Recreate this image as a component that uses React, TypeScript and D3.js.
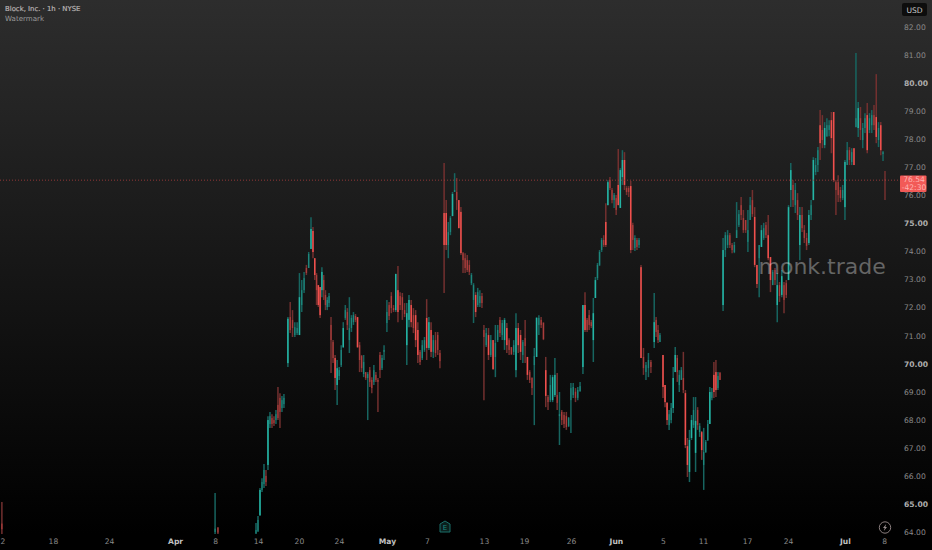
import { useEffect, useRef } from 'react';
import * as d3 from 'd3';

// open, high, low, close
type Bar = [number, number, number, number];

const symbolTitle = 'Block, Inc. · 1h · NYSE';
const lastPrice = 76.54;
const countdown = '-42:30';
const priceTicks = [64, 65, 66, 67, 68, 69, 70, 71, 72, 73, 74, 75, 76, 77, 78, 79, 80, 81, 82];
const boldPrices = [65, 70, 75, 80];

// tick position on the bar axis, one label each
const timeSlots = [-116.4, -92.3, -66.8, -36.8, -18.6, 0.9, 19.5, 37.7, 59.5, 77.7, 103.6, 121.8, 143.2, 163.6, 185, 203.2, 223.2, 241.8, 267.7, 285.5];
const timeLabels = ['12', '18', '24', 'Apr', '8', '14', '20', '24', 'May', '7', '13', '19', '26', 'Jun', '5', '11', '17', '24', 'Jul', '8'];
const monthLabels = ['Apr', 'May', 'Jun', 'Jul'];

const marchBars: Bar[] = [[64.3, 65.07, 63.93, 64.1]];
const aprilOpenBars: Bar[] = [[64.0, 65.39, 63.93, 64.12], [64.15, 64.18, 63.93, 63.98]];
const aprilRiseBars: Bar[] = [
  [63.95, 64.32, 63.93, 64.07], [64.04, 64.57, 64.0, 64.43], [64.6, 65.57, 64.57, 65.5], [65.5, 65.92, 65.43, 65.78],
  [65.71, 66.42, 65.57, 66.21], [66.0, 66.21, 65.64, 65.78], [66.39, 68.13, 66.21, 67.99], [67.85, 68.28, 67.71, 68.13],
  [68.06, 68.2, 67.71, 67.85], [67.99, 68.13, 67.78, 67.88], [67.99, 68.35, 67.85, 68.2], [68.53, 69.17, 67.99, 68.06],
  [68.78, 68.95, 67.71, 68.28], [68.42, 68.85, 68.28, 68.7], [68.56, 68.92, 68.42, 68.78],
];
const aprilClimbBars: Bar[] = [
  [70.02, 71.66, 69.88, 71.6], [71.66, 72.2, 71.09, 71.2], [71.56, 71.91, 70.95, 71.27], [71.02, 71.48, 70.95, 71.3],
  [71.09, 71.48, 71.02, 71.27], [71.02, 73.23, 71.02, 72.37], [72.09, 72.98, 71.84, 72.62], [72.62, 73.27, 72.52, 73.05],
  [73.41, 73.52, 73.16, 73.23], [73.41, 73.98, 73.41, 73.91], [74.09, 75.22, 74.09, 74.8],
];
const aprilFadeBars: Bar[] = [
  [74.73, 74.87, 73.76, 73.98], [73.76, 73.76, 72.98, 73.16], [73.16, 73.23, 72.09, 72.62], [72.8, 72.8, 72.02, 72.09],
  [72.73, 72.73, 71.63, 71.73], [72.62, 73.44, 72.37, 73.27], [72.98, 73.16, 72.27, 72.62], [72.45, 72.62, 71.91, 72.09],
  [72.02, 72.37, 71.91, 72.27], [72.16, 72.52, 72.02, 72.41],
];
const aprilDipBars: Bar[] = [
  [71.38, 71.66, 69.67, 70.84], [70.77, 70.84, 70.02, 70.2], [70.2, 70.31, 69.06, 69.49], [69.24, 70.13, 68.53, 69.84],
  [69.56, 69.88, 69.42, 69.77], [69.95, 70.66, 69.88, 70.49], [70.59, 71.48, 70.56, 71.27], [71.63, 72.09, 71.56, 71.91],
  [71.84, 71.98, 71.2, 71.38], [70.84, 72.37, 70.38, 71.27], [71.27, 71.73, 71.13, 71.63], [71.48, 71.84, 71.38, 71.73],
  [71.7, 71.77, 71.48, 71.56], [71.66, 71.66, 70.56, 70.59], [70.66, 70.77, 69.7, 70.13], [70.27, 70.31, 69.7, 69.84],
  [69.63, 70.31, 69.52, 70.06], [69.7, 69.7, 69.42, 69.49], [69.49, 69.7, 67.99, 69.63], [69.77, 69.88, 69.17, 69.35],
  [69.42, 69.52, 68.95, 69.13], [69.35, 69.95, 69.24, 69.77], [69.6, 69.7, 69.35, 69.42], [69.42, 69.49, 68.28, 69.35],
  [70.31, 70.42, 69.49, 69.77], [69.84, 70.31, 69.77, 70.2], [70.42, 70.66, 70.13, 70.49],
];
const mayStartBars: Bar[] = [
  [71.45, 72.27, 71.13, 71.84], [72.09, 72.2, 71.56, 71.7], [72.41, 72.55, 71.8, 71.98], [71.98, 72.09, 71.84, 71.91],
  [71.91, 73.2, 71.84, 73.2], [72.62, 73.48, 71.48, 71.84], [72.41, 72.55, 71.91, 72.09], [72.37, 72.52, 71.56, 71.91],
  [71.91, 72.16, 71.66, 71.77], [70.66, 72.16, 69.95, 71.8], [71.56, 72.45, 71.3, 72.27], [72.09, 72.27, 71.3, 71.48],
  [71.73, 71.98, 71.09, 71.27], [71.73, 71.91, 70.59, 70.84], [71.2, 71.48, 70.02, 70.31], [70.42, 70.49, 69.95, 70.06],
  [70.2, 70.84, 70.13, 70.66], [70.49, 70.95, 70.42, 70.84], [71.63, 72.3, 70.13, 70.56], [70.56, 71.66, 70.49, 71.48],
  [71.2, 71.48, 70.24, 70.42], [70.42, 71.02, 70.2, 70.84], [70.84, 71.13, 70.24, 70.38], [71.02, 71.13, 70.31, 70.49],
  [70.38, 70.49, 69.84, 70.09],
];
const earningsBars: Bar[] = [
  [75.37, 77.15, 72.52, 74.23], [75.37, 75.83, 74.05, 74.23], [74.23, 75.05, 73.76, 74.69], [74.69, 75.26, 74.58, 75.19],
  [75.26, 76.12, 75.26, 76.05], [76.12, 76.79, 76.12, 76.19], [76.12, 76.62, 75.48, 75.83], [75.83, 75.83, 74.83, 74.83],
  [75.41, 75.58, 73.87, 73.94], [73.94, 73.98, 73.23, 73.69], [73.76, 73.94, 73.23, 73.41], [73.69, 73.87, 73.27, 73.34],
  [73.52, 73.69, 73.16, 73.27], [72.87, 73.23, 72.8, 73.16], [72.27, 72.87, 71.45, 72.8], [72.45, 72.55, 71.66, 71.84],
  [72.09, 72.7, 72.02, 72.55], [72.16, 72.62, 72.02, 72.41], [72.41, 72.52, 71.98, 72.16],
];
const mayRangeBars: Bar[] = [
  [71.2, 71.38, 68.7, 70.95], [70.66, 71.27, 70.59, 71.09], [71.02, 71.27, 70.13, 70.31], [70.31, 71.02, 70.24, 70.84],
  [70.84, 70.84, 69.77, 69.81], [70.24, 71.38, 69.52, 70.74], [70.84, 71.38, 70.77, 71.2], [71.56, 71.66, 70.95, 71.09],
  [71.02, 71.56, 70.84, 71.45], [70.84, 71.63, 70.49, 71.56], [71.27, 71.45, 70.38, 70.66], [70.84, 70.91, 70.31, 70.49],
  [70.59, 70.59, 70.31, 70.34], [70.42, 70.84, 70.31, 70.66], [69.77, 71.8, 69.52, 71.27], [71.27, 71.45, 70.38, 70.66],
  [71.02, 71.2, 70.13, 70.42], [70.31, 70.84, 70.02, 70.77], [70.91, 71.56, 70.02, 70.63], [70.24, 70.24, 69.42, 69.6],
  [69.7, 69.77, 69.31, 69.42], [69.49, 69.52, 68.88, 69.13], [69.95, 70.56, 67.81, 70.27], [70.24, 71.66, 70.24, 71.63],
  [71.38, 71.73, 71.02, 71.63], [71.56, 71.66, 71.27, 71.38], [71.45, 71.48, 70.84, 70.88], [69.77, 70.24, 68.45, 68.85],
  [68.81, 68.88, 68.35, 68.63], [68.7, 69.6, 68.63, 69.24], [68.7, 69.6, 68.63, 69.52], [68.88, 70.2, 68.81, 69.6],
  [68.88, 69.67, 68.35, 68.6], [68.13, 68.99, 67.1, 68.2], [68.28, 68.35, 67.81, 67.99], [68.17, 68.28, 67.71, 67.85],
  [68.13, 68.28, 67.64, 67.74], [67.78, 68.1, 67.74, 68.06], [68.7, 69.31, 67.53, 69.13], [68.88, 69.31, 68.78, 69.17],
  [69.0, 69.13, 68.63, 68.78], [68.78, 69.17, 68.7, 69.06], [69.02, 69.35, 69.0, 69.2],
];
const juneRiseBars: Bar[] = [
  [69.88, 72.09, 69.63, 72.09], [72.09, 72.55, 71.13, 71.2], [71.56, 71.63, 71.13, 71.2], [71.73, 71.91, 71.2, 71.38],
  [71.48, 71.56, 71.27, 71.34], [70.84, 72.34, 70.06, 71.8], [72.34, 73.09, 72.34, 72.98], [73.05, 73.59, 72.98, 73.52],
  [73.52, 74.05, 73.48, 73.98], [74.05, 74.48, 73.98, 74.41], [74.41, 74.58, 74.16, 74.23], [75.05, 75.72, 74.16, 74.23],
  [75.65, 76.54, 75.65, 76.47], [76.54, 76.65, 76.19, 76.26], [76.19, 76.26, 75.72, 75.83], [75.83, 76.08, 75.55, 76.01],
  [75.9, 76.01, 75.3, 75.48], [76.37, 77.65, 75.65, 75.65], [75.55, 76.97, 75.55, 76.9], [76.65, 77.61, 76.37, 77.26],
  [77.26, 77.54, 76.19, 76.37], [76.26, 76.33, 76.01, 76.12], [76.26, 76.33, 75.94, 76.12], [76.33, 76.51, 73.94, 74.05],
  [74.94, 75.02, 74.05, 74.41], [74.12, 74.58, 74.02, 74.48], [74.41, 74.48, 74.05, 74.16], [74.23, 74.48, 74.12, 74.41],
];
const juneDropBars: Bar[] = [
  [73.44, 73.52, 70.2, 70.2], [70.24, 70.56, 69.6, 69.84], [69.7, 70.06, 69.42, 69.95], [69.84, 70.38, 69.52, 70.13],
  [70.06, 70.13, 69.67, 69.88],
];
const juneGapBars: Bar[] = [
  [70.77, 72.52, 70.56, 71.48], [71.56, 71.66, 70.95, 71.13], [71.2, 71.38, 70.74, 70.84], [70.77, 71.09, 70.77, 71.02],
];
const juneLowBars: Bar[] = [
  [70.31, 70.31, 68.78, 69.17], [69.24, 69.24, 68.45, 68.63], [68.6, 68.63, 67.81, 67.99], [67.81, 68.35, 67.64, 68.2],
  [67.99, 68.6, 67.88, 68.42], [68.42, 69.88, 68.24, 69.49], [69.7, 70.59, 69.7, 70.31], [70.2, 70.31, 69.35, 69.7],
  [69.24, 69.77, 68.99, 69.6], [69.42, 69.88, 69.42, 69.77], [69.49, 70.42, 68.95, 69.06], [68.95, 69.06, 66.99, 67.1],
  [67.06, 67.35, 65.96, 66.39], [66.14, 67.64, 65.78, 67.28], [67.35, 68.17, 67.28, 67.99], [67.81, 68.81, 67.71, 68.35],
  [66.82, 68.81, 66.14, 67.96], [68.35, 68.45, 67.64, 67.81], [67.56, 67.88, 67.39, 67.78], [67.56, 67.6, 66.57, 66.92],
  [66.39, 67.71, 65.5, 66.85], [66.85, 67.28, 66.82, 67.21], [67.28, 67.99, 67.24, 67.85], [67.85, 69.17, 67.85, 68.99],
  [68.78, 69.13, 68.7, 68.99], [69.6, 70.06, 68.78, 68.99], [69.7, 70.13, 68.81, 69.06], [69.13, 69.7, 69.06, 69.56],
  [69.67, 69.7, 69.42, 69.42],
];
const juneHighBars: Bar[] = [
  [72.09, 74.48, 71.88, 74.05], [74.05, 74.69, 73.8, 74.58], [74.23, 74.76, 74.12, 74.58], [74.58, 74.66, 74.12, 74.23],
  [74.23, 74.3, 73.94, 74.05], [73.98, 74.34, 73.94, 74.23], [74.48, 75.76, 74.48, 74.76], [74.94, 75.48, 74.87, 75.33],
  [75.65, 75.94, 75.12, 75.3], [75.19, 75.48, 74.66, 74.76], [75.12, 75.12, 74.66, 74.76], [74.34, 75.48, 73.98, 74.76],
  [75.12, 75.94, 75.12, 75.65], [75.83, 76.19, 75.23, 75.33], [75.23, 75.58, 73.44, 73.52], [73.52, 73.52, 72.7, 72.84],
  [73.76, 74.23, 72.37, 74.23], [74.16, 74.94, 74.16, 74.76], [74.48, 75.02, 74.41, 74.83], [74.94, 75.05, 74.48, 74.58],
  [74.58, 75.3, 73.69, 73.76], [73.8, 73.8, 72.55, 72.98], [72.8, 73.34, 72.8, 73.27], [73.34, 73.41, 72.8, 72.98],
  [72.09, 73.23, 71.48, 72.8], [72.8, 72.91, 72.2, 72.41], [72.45, 73.34, 72.37, 73.12], [72.8, 72.91, 71.8, 72.27],
  [72.87, 72.98, 72.34, 72.45], [72.98, 75.65, 72.98, 75.58], [76.19, 77.15, 75.58, 76.9], [76.37, 76.54, 75.58, 75.83],
  [75.65, 76.44, 75.37, 76.19], [75.83, 76.08, 75.12, 75.3], [74.23, 75.58, 73.69, 75.3], [75.3, 75.58, 74.69, 74.83],
  [74.76, 74.94, 74.3, 74.48], [74.48, 74.66, 74.05, 74.2], [74.3, 75.48, 74.23, 75.3], [75.3, 75.83, 75.12, 75.65],
  [75.83, 77.36, 75.83, 77.26], [76.83, 77.33, 76.72, 77.08], [77.08, 77.72, 76.83, 77.61], [78.5, 79.04, 77.26, 77.86],
  [78.33, 78.86, 77.68, 77.97], [77.79, 78.61, 77.68, 78.4], [78.11, 78.75, 78.08, 78.5], [78.33, 78.68, 78.11, 78.5],
  [78.68, 78.97, 77.5, 78.04], [78.97, 78.97, 76.47, 76.54], [76.47, 76.54, 75.3, 76.19], [76.47, 76.72, 75.76, 76.01],
  [76.19, 76.3, 75.76, 75.9], [75.9, 76.37, 75.83, 76.19], [75.58, 77.26, 75.12, 77.19], [77.08, 77.9, 77.08, 77.61],
  [77.61, 77.72, 77.08, 77.26], [77.19, 77.68, 77.08, 77.54], [77.68, 77.68, 77.08, 77.08],
];
const julyBars: Bar[] = [
  [78.43, 81.07, 78.43, 78.75], [78.4, 79.33, 78.08, 79.11], [78.75, 79.15, 77.97, 78.33], [77.97, 78.58, 77.68, 78.4],
  [78.4, 78.93, 78.22, 78.75], [78.86, 79.29, 77.5, 77.61], [78.33, 78.93, 78.22, 78.75], [78.5, 79.04, 78.22, 78.86],
  [78.86, 79.22, 78.33, 78.5], [78.79, 80.32, 77.86, 78.08], [77.97, 78.61, 77.72, 78.4], [78.5, 78.61, 77.43, 77.61],
  [77.47, 77.58, 77.22, 77.54],
];
const lastBars: Bar[] = [[76.56, 76.87, 75.83, 76.54]];

// first slot, last slot, bars between them
const barRuns: [number, number, Bar[]][] = [
  [-115.5, -115.5, marchBars],
  [-18.6, -17.3, aprilOpenBars],
  [0, 12.7, aprilRiseBars],
  [14.5, 25, aprilClimbBars],
  [25.9, 33.2, aprilFadeBars],
  [34.1, 58.2, aprilDipBars],
  [59.5, 83.6, mayStartBars],
  [85.5, 102.7, earningsBars],
  [103.6, 147.3, mayRangeBars],
  [148.6, 174.1, juneRiseBars],
  [175, 179.5, juneDropBars],
  [181, 183.6, juneGapBars],
  [185, 210.9, juneLowBars],
  [212.3, 271.8, juneHighBars],
  [272.7, 285, julyBars],
  [285.9, 285.9, lastBars],
];

const UP = '#26b8a8';
const DOWN = '#f7524f';
const UP_WICK = '#176560';
const DOWN_WICK = '#73302f';

const App = () => {
  const ref = useRef<SVGSVGElement | null>(null);

  useEffect(() => {
    const svg = d3.select(ref.current);
    svg.selectAll('*').remove();

    const width = 932;
    const height = 550;
    const x = d3.scaleLinear().domain([0, 285.9]).range([256, 885]);
    const y = d3.scaleLinear().domain([64, 82]).range([532, 27]);

    const defs = svg.append('defs');
    const grad = defs
      .append('linearGradient')
      .attr('id', 'bg')
      .attr('x1', 0)
      .attr('x2', 0)
      .attr('y1', 0)
      .attr('y2', 1);
    grad.append('stop').attr('offset', '0%').attr('stop-color', '#2d2d2d');
    grad.append('stop').attr('offset', '97%').attr('stop-color', '#000000');
    defs
      .append('clipPath')
      .attr('id', 'pane')
      .append('rect')
      .attr('width', 900)
      .attr('height', 535);

    svg.append('rect').attr('width', width).attr('height', height).attr('fill', 'url(#bg)');

    const bars = barRuns.flatMap(([from, to, rows]) =>
      rows.map((row, i) => ({
        slot: rows.length > 1 ? from + (i * (to - from)) / (rows.length - 1) : from,
        open: row[0],
        high: row[1],
        low: row[2],
        close: row[3],
      })),
    );

    const pane = svg.append('g').attr('clip-path', 'url(#pane)');

    pane
      .selectAll('.wick')
      .data(bars)
      .enter()
      .append('line')
      .attr('class', 'wick')
      .attr('x1', d => x(d.slot))
      .attr('x2', d => x(d.slot))
      .attr('y1', d => y(d.high))
      .attr('y2', d => y(d.low))
      .attr('stroke', d => (d.close >= d.open ? UP_WICK : DOWN_WICK))
      .attr('stroke-width', 1.5);

    pane
      .selectAll('.body')
      .data(bars)
      .enter()
      .append('rect')
      .attr('class', 'body')
      .attr('x', d => x(d.slot) - 0.75)
      .attr('width', 1.5)
      .attr('y', d => y(Math.max(d.open, d.close)))
      .attr('height', d => Math.max(0.6, Math.abs(y(d.open) - y(d.close))))
      .attr('fill', d => (d.close >= d.open ? UP : DOWN))
      .attr('opacity', d => (Math.abs(y(d.open) - y(d.close)) > 16 ? 0.95 : 0.42));

    // watermark is painted over the candles
    svg
      .append('text')
      .attr('x', 758.5)
      .attr('y', 274)
      .attr('font-family', 'DejaVu Sans')
      .attr('font-size', 22)
      .attr('fill', '#ffffff')
      .attr('fill-opacity', 0.34)
      .text('monk.trade');

    // last price line
    svg
      .append('line')
      .attr('x1', 0)
      .attr('x2', 901)
      .attr('y1', y(lastPrice))
      .attr('y2', y(lastPrice))
      .attr('stroke', '#b03f3e')
      .attr('stroke-width', 0.8)
      .attr('stroke-dasharray', '1 2');

    const priceAxis = svg
      .append('g')
      .attr('transform', 'translate(902,0)')
      .call(
        d3
          .axisRight(y)
          .tickValues(priceTicks)
          .tickSize(0)
          .tickPadding(2)
          .tickFormat(d => d3.format('.2f')(d as number)),
      );
    priceAxis.select('.domain').remove();
    priceAxis
      .selectAll('text')
      .attr('font-family', 'DejaVu Sans')
      .attr('font-size', 7.6)
      .attr('fill', d => (boldPrices.includes(d as number) ? '#aeaeae' : '#8a8a8a'))
      .attr('font-weight', d => (boldPrices.includes(d as number) ? 'bold' : 'normal'));

    const timeAxis = svg
      .append('g')
      .attr('transform', 'translate(0,537)')
      .call(
        d3
          .axisBottom(x)
          .tickValues(timeSlots)
          .tickSize(0)
          .tickPadding(2)
          .tickFormat((_, i) => timeLabels[i]),
      );
    timeAxis.select('.domain').remove();
    timeAxis
      .selectAll('text')
      .attr('font-family', 'DejaVu Sans')
      .attr('font-size', 7.6)
      .attr('fill', (_, i) => (monthLabels.includes(timeLabels[i]) ? '#c0c0c0' : '#8a8a8a'))
      .attr('font-weight', (_, i) => (monthLabels.includes(timeLabels[i]) ? 'bold' : 'normal'));

    // currency button
    svg
      .append('rect')
      .attr('x', 902)
      .attr('y', 3)
      .attr('width', 25)
      .attr('height', 13)
      .attr('rx', 2)
      .attr('fill', '#0d0d0d');
    svg
      .append('text')
      .attr('x', 914.5)
      .attr('y', 12.6)
      .attr('text-anchor', 'middle')
      .attr('font-family', 'DejaVu Sans')
      .attr('font-size', 7.6)
      .attr('fill', '#c8c8c8')
      .text('USD');

    // last price tag
    svg
      .append('rect')
      .attr('x', 900)
      .attr('y', 175.5)
      .attr('width', 26.5)
      .attr('height', 16.5)
      .attr('rx', 1)
      .attr('fill', '#f25a57');
    svg
      .append('text')
      .attr('x', 914)
      .attr('y', 182)
      .attr('text-anchor', 'middle')
      .attr('font-family', 'DejaVu Sans')
      .attr('font-size', 7.6)
      .attr('fill', '#ffb4b1')
      .text(d3.format('.2f')(lastPrice));
    svg
      .append('text')
      .attr('x', 914)
      .attr('y', 190)
      .attr('text-anchor', 'middle')
      .attr('font-family', 'DejaVu Sans')
      .attr('font-size', 7.6)
      .attr('fill', '#ffb4b1')
      .text(countdown);

    // legend
    svg
      .append('text')
      .attr('x', 5)
      .attr('y', 10.5)
      .attr('font-family', 'DejaVu Sans')
      .attr('font-size', 6.9)
      .attr('fill', '#b8b2b2')
      .attr('stroke', '#b8b2b2')
      .attr('stroke-width', 0.2)
      .text(symbolTitle);
    svg
      .append('text')
      .attr('x', 5)
      .attr('y', 21)
      .attr('font-family', 'DejaVu Sans')
      .attr('font-size', 7.1)
      .attr('fill', '#9a9a9a')
      .text('Watermark');

    // earnings marker
    const earnings = svg.append('g').attr('transform', 'translate(445,527)');
    earnings
      .append('path')
      .attr('d', 'M-5,-3 L0,-6 L5,-3 L5,5 L-5,5 Z')
      .attr('fill', '#0b1f1d')
      .attr('stroke', '#1b6f69')
      .attr('stroke-width', 1);
    earnings
      .append('text')
      .attr('y', 3)
      .attr('text-anchor', 'middle')
      .attr('font-family', 'DejaVu Sans')
      .attr('font-size', 7)
      .attr('fill', '#1b8a80')
      .text('E');

    // flash marker
    const flash = svg.append('g').attr('transform', 'translate(885,527.5)');
    flash
      .append('circle')
      .attr('r', 5.7)
      .attr('fill', 'none')
      .attr('stroke', '#8a7e7e')
      .attr('stroke-width', 1);
    flash.append('path').attr('d', 'M1.2,-3.5 L-2,0.6 L-0.3,0.6 L-1.2,3.5 L2,-0.6 L0.3,-0.6 Z').attr('fill', '#9a9090');
  }, []);

  return <svg ref={ref} width={932} height={550} style={{ position: 'fixed', left: 0, top: 0 }} />;
};

export default App;
